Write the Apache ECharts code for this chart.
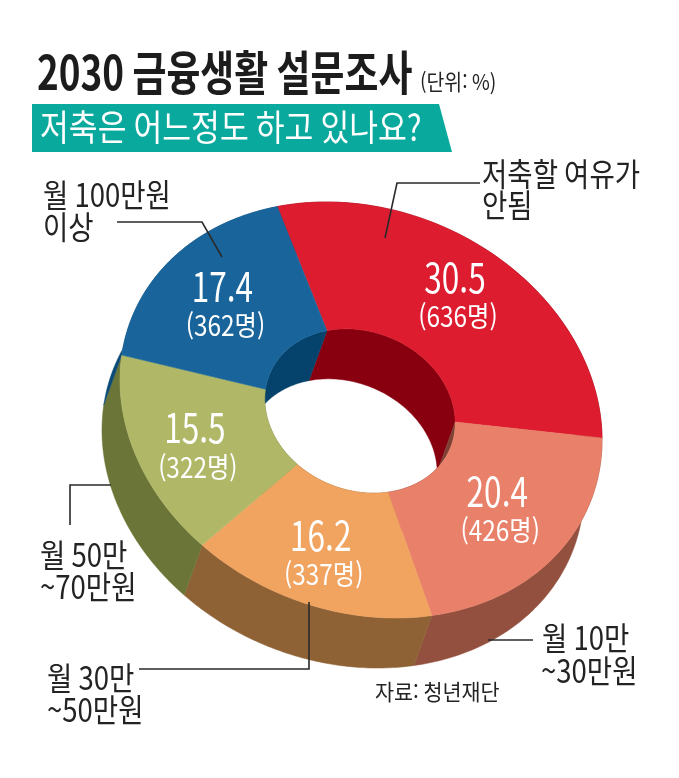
<!DOCTYPE html>
<html lang="ko">
<head>
<meta charset="utf-8">
<style>html,body{margin:0;padding:0;background:#fff}#c{width:679px;height:778px}</style>
<script src="https://cdn.jsdelivr.net/npm/echarts@6/dist/echarts.min.js"></script>
</head>
<body>
<div id="c"></div>
<script>
var categories = ['저축할 여유가 안됨', '월 10만~30만원', '월 30만~50만원', '월 50만~70만원', '월 100만원 이상'];
var shares = [30.5, 20.4, 16.2, 15.5, 17.4];
var people = [636, 426, 337, 322, 362];
var faceColors = ['#dd1c2f', '#e98069', '#f1a360', '#b0b868', '#19659b'];
var wallColors = ['#7c0d18', '#93503f', '#8f6235', '#6b7537', '#0b4a78'];
var innerColors = ['#88000f', '#7f4034', '#8f6235', '#6b7537', '#05436c'];

var FF = '"Noto Sans CJK KR","Noto Sans",sans-serif';
var OUT = {cx: 361, cy: 410, a: 240.5, b: 207.4, k: 16.1, s: 1};
var HOLE = {cx: 360, cy: 411, a: 240.5, b: 207.4, k: 16.1, s: 0.395};
var DROP = [-18, 50];
var START = -16.5;
var NUDGE = [[1, -9], [4, 2], [-6, 13], [-13, 7], [-10, -1]];

var total = shares.reduce(function (s, v) { return s + v; }, 0);
function pt(e, deg, f) {
  var t = deg * Math.PI / 180, s = Math.sin(t), c = Math.cos(t), m = e.s * (f || 1);
  return [e.cx + m * (e.a * s - e.k * c), e.cy + m * (e.k * s - e.b * c)];
}
function span(i) {
  var before = 0;
  for (var j = 0; j < i; j++) before += shares[j];
  return [START + before / total * 360, START + (before + shares[i]) / total * 360];
}
function arc(e, a0, a1) {
  var out = [], n = 80;
  for (var i = 0; i <= n; i++) out.push(pt(e, a0 + (a1 - a0) * i / n));
  return out;
}
function shift(p) { return [p[0] + DROP[0], p[1] + DROP[1]]; }
function wallItem(e, colors) {
  return function (params) {
    var sp = span(params.dataIndex), top = arc(e, sp[0], sp[1]);
    var col = colors[params.dataIndex];
    return {type: 'polygon', shape: {points: top.concat(top.map(shift).reverse())},
      style: {fill: col, stroke: col, lineWidth: 0.5}};
  };
}
function faceItem(params) {
  var sp = span(params.dataIndex), col = faceColors[params.dataIndex];
  return {type: 'polygon', shape: {points: arc(OUT, sp[0], sp[1]).concat(arc(HOLE, sp[1], sp[0]))},
    style: {fill: col, stroke: col, lineWidth: 0.5}};
}
function labelItem(params, api) {
  var i = params.dataIndex, sp = span(i), p = pt(OUT, (sp[0] + sp[1]) / 2, 0.68);
  var x = p[0] + NUDGE[i][0], y = p[1] + NUDGE[i][1];
  return {type: 'group', children: [
    {type: 'text', x: x, y: y - 20, scaleX: 0.77,
      style: {text: api.value(0).toFixed(1), fill: '#fff', fontFamily: FF, fontSize: 41, fontWeight: 400, align: 'center', verticalAlign: 'middle'}},
    {type: 'text', x: x + 3, y: y + 19, scaleX: 0.87,
      style: {text: '(' + api.value(1) + '명)', fill: '#fff', fontFamily: FF, fontSize: 28, fontWeight: 400, align: 'center', verticalAlign: 'middle'}}
  ]};
}
function txt(t, x, y, size, opt) {
  opt = opt || {};
  return {type: 'text', x: x, y: y, scaleX: opt.sx || 0.86, z: 100,
    style: {text: t, fill: opt.fill || '#232323', fontFamily: FF, fontSize: size, fontWeight: opt.w || 400, align: 'left', verticalAlign: 'middle'}};
}
function lead(pts) {
  return {type: 'polyline', z: 100, shape: {points: pts}, style: {stroke: '#2a2a2a', lineWidth: 1.6, fill: null}};
}
var rows = shares.map(function (v, i) { return [v, people[i], categories[i]]; });
function layer(fn) {
  return {type: 'custom', coordinateSystem: 'none', renderItem: fn, data: rows, silent: true, animation: false};
}
var chart = echarts.init(document.getElementById('c'), null, {renderer: 'canvas'});
chart.setOption({
  animation: false,
  backgroundColor: '#fff',
  series: [
    layer(wallItem(OUT, wallColors)),
    layer(wallItem(HOLE, innerColors)),
    layer(faceItem),
    layer(labelItem)
  ],
  graphic: [
    txt('2030 금융생활 설문조사', 37, 72, 47, {w: 700, sx: 0.785, fill: '#1c1c1c'}),
    txt('(단위: %)', 420, 82, 22, {sx: 0.88}),
    {type: 'polygon', z: 90, shape: {points: [[32, 104], [439, 104], [452, 152], [32, 152]]}, style: {fill: '#0aa99d'}},
    txt('저축은 어느정도 하고 있나요?', 40, 127, 36, {fill: '#fff', w: 400, sx: 0.87}),
    txt('저축할 여유가', 482, 174, 32),
    txt('안됨', 482, 205, 32),
    txt('월 100만원', 43, 195, 32),
    txt('이상', 43, 227, 32),
    txt('월 50만', 40, 555, 32),
    txt('~70만원', 40, 587, 32),
    txt('월 30만', 47, 678, 32),
    txt('~50만원', 47, 710, 32),
    txt('월 10만', 542, 638, 32),
    txt('~30만원', 541, 671, 32),
    txt('자료: 청년재단', 375, 692, 22, {sx: 0.94}),
    lead([[480, 183], [397, 183], [385, 238]]),
    lead([[117, 222], [202, 222], [222, 257]]),
    lead([[70, 525], [70, 485], [111, 485]]),
    lead([[309, 602], [309, 669], [139, 669]]),
    lead([[488, 640], [533, 640]])
  ]
});
</script>
</body>
</html>
